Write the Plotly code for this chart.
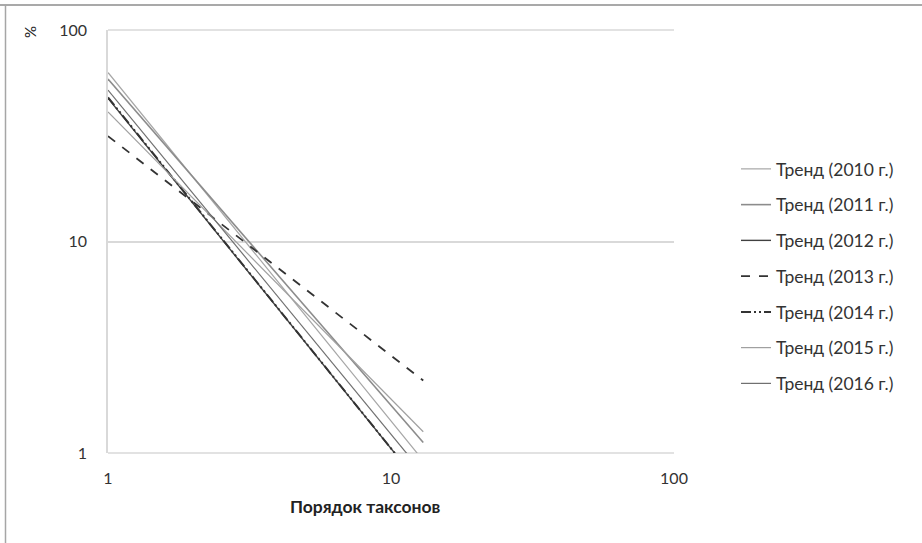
import plotly.graph_objects as go

years = ["2010", "2011", "2012", "2013", "2014", "2015", "2016"]
x_points = [1, 13]
start_vals = [63, 58.6, 47.6, 31.5, 48, 41, 52]
end_vals = [0.92, 1.12, 0.68, 2.2, 0.68, 1.26, 0.8]
colors = ["#a6a6a6", "#8c8c8c", "#404040", "#333333", "#333333", "#a0a0a0", "#707070"]
widths = [1.2, 1.6, 1.4, 1.8, 2.0, 1.2, 1.2]
dashes = ["solid", "solid", "solid", "dash", "10px,3px,2px,3px,2px,3px", "solid", "solid"]

fig = go.Figure()
for i, yr in enumerate(years):
    fig.add_trace(go.Scatter(
        x=x_points, y=[start_vals[i], end_vals[i]], mode="lines",
        name="Тренд (" + yr + " г.)", legendgroup=yr,
        line=dict(color=colors[i], width=widths[i], dash=dashes[i]),
    ))

W, H = 922, 543
L, R, T, B = 108, 248, 30, 90
PW, PH = W - L - R, H - T - B


def px(x):
    return (x - L) / PW


def py(y):
    return (H - B - y) / PH


fig.update_layout(
    width=W, height=H,
    margin=dict(l=L, r=R, t=T, b=B),
    plot_bgcolor="white", paper_bgcolor="white",
    font=dict(family="Lato, Open Sans, sans-serif", size=16, color="#333333"),
    showlegend=True,
    legend=dict(x=px(736), y=py(151), xanchor="left", yanchor="top",
                tracegroupgap=10, font=dict(size=17.5, color="#333333"),
                bgcolor="rgba(0,0,0,0)"),
    xaxis=dict(type="log", range=[0, 2], showgrid=False, zeroline=False,
               tickvals=[1, 10, 100], ticktext=["1", "10", "100"],
               showline=False, ticks="", ticklabelstandoff=14,
               tickfont=dict(size=16, color="#333333")),
    yaxis=dict(type="log", range=[0, 2], showgrid=True, gridcolor="#d9d9d9", gridwidth=1.5,
               tickvals=[1, 10, 100], ticktext=["1", "10", "100"],
               showline=True, linecolor="#d9d9d9", linewidth=1.5, zeroline=False,
               ticks="", ticklabelstandoff=16,
               tickfont=dict(size=16, color="#333333")),
    annotations=[
        dict(text="<b>Порядок таксонов</b>", xref="paper", yref="paper",
             x=px(365), y=py(506),
             xanchor="center", yanchor="middle", showarrow=False,
             font=dict(size=17.5, color="#222222")),
        dict(text="%", xref="paper", yref="paper",
             x=px(30), y=py(32),
             xanchor="center", yanchor="middle", showarrow=False, textangle=-90,
             font=dict(size=15, color="#222222")),
    ],
    shapes=[
        dict(type="line", xref="paper", yref="paper", x0=0, x1=1, y0=0, y1=0,
             line=dict(color="#d9d9d9", width=1.5), layer="below"),
        dict(type="line", xref="paper", yref="paper", x0=0, x1=1, y0=1, y1=1,
             line=dict(color="#d9d9d9", width=1.5), layer="below"),
        dict(type="line", xref="paper", yref="paper", x0=px(0), x1=px(W), y0=py(5), y1=py(5),
             line=dict(color="#8c8c8c", width=1.5)),
        dict(type="line", xref="paper", yref="paper", x0=px(5.5), x1=px(5.5), y0=py(5), y1=py(H),
             line=dict(color="#a6a6a6", width=1.5)),
    ],
)

fig.write_html("out.html")
